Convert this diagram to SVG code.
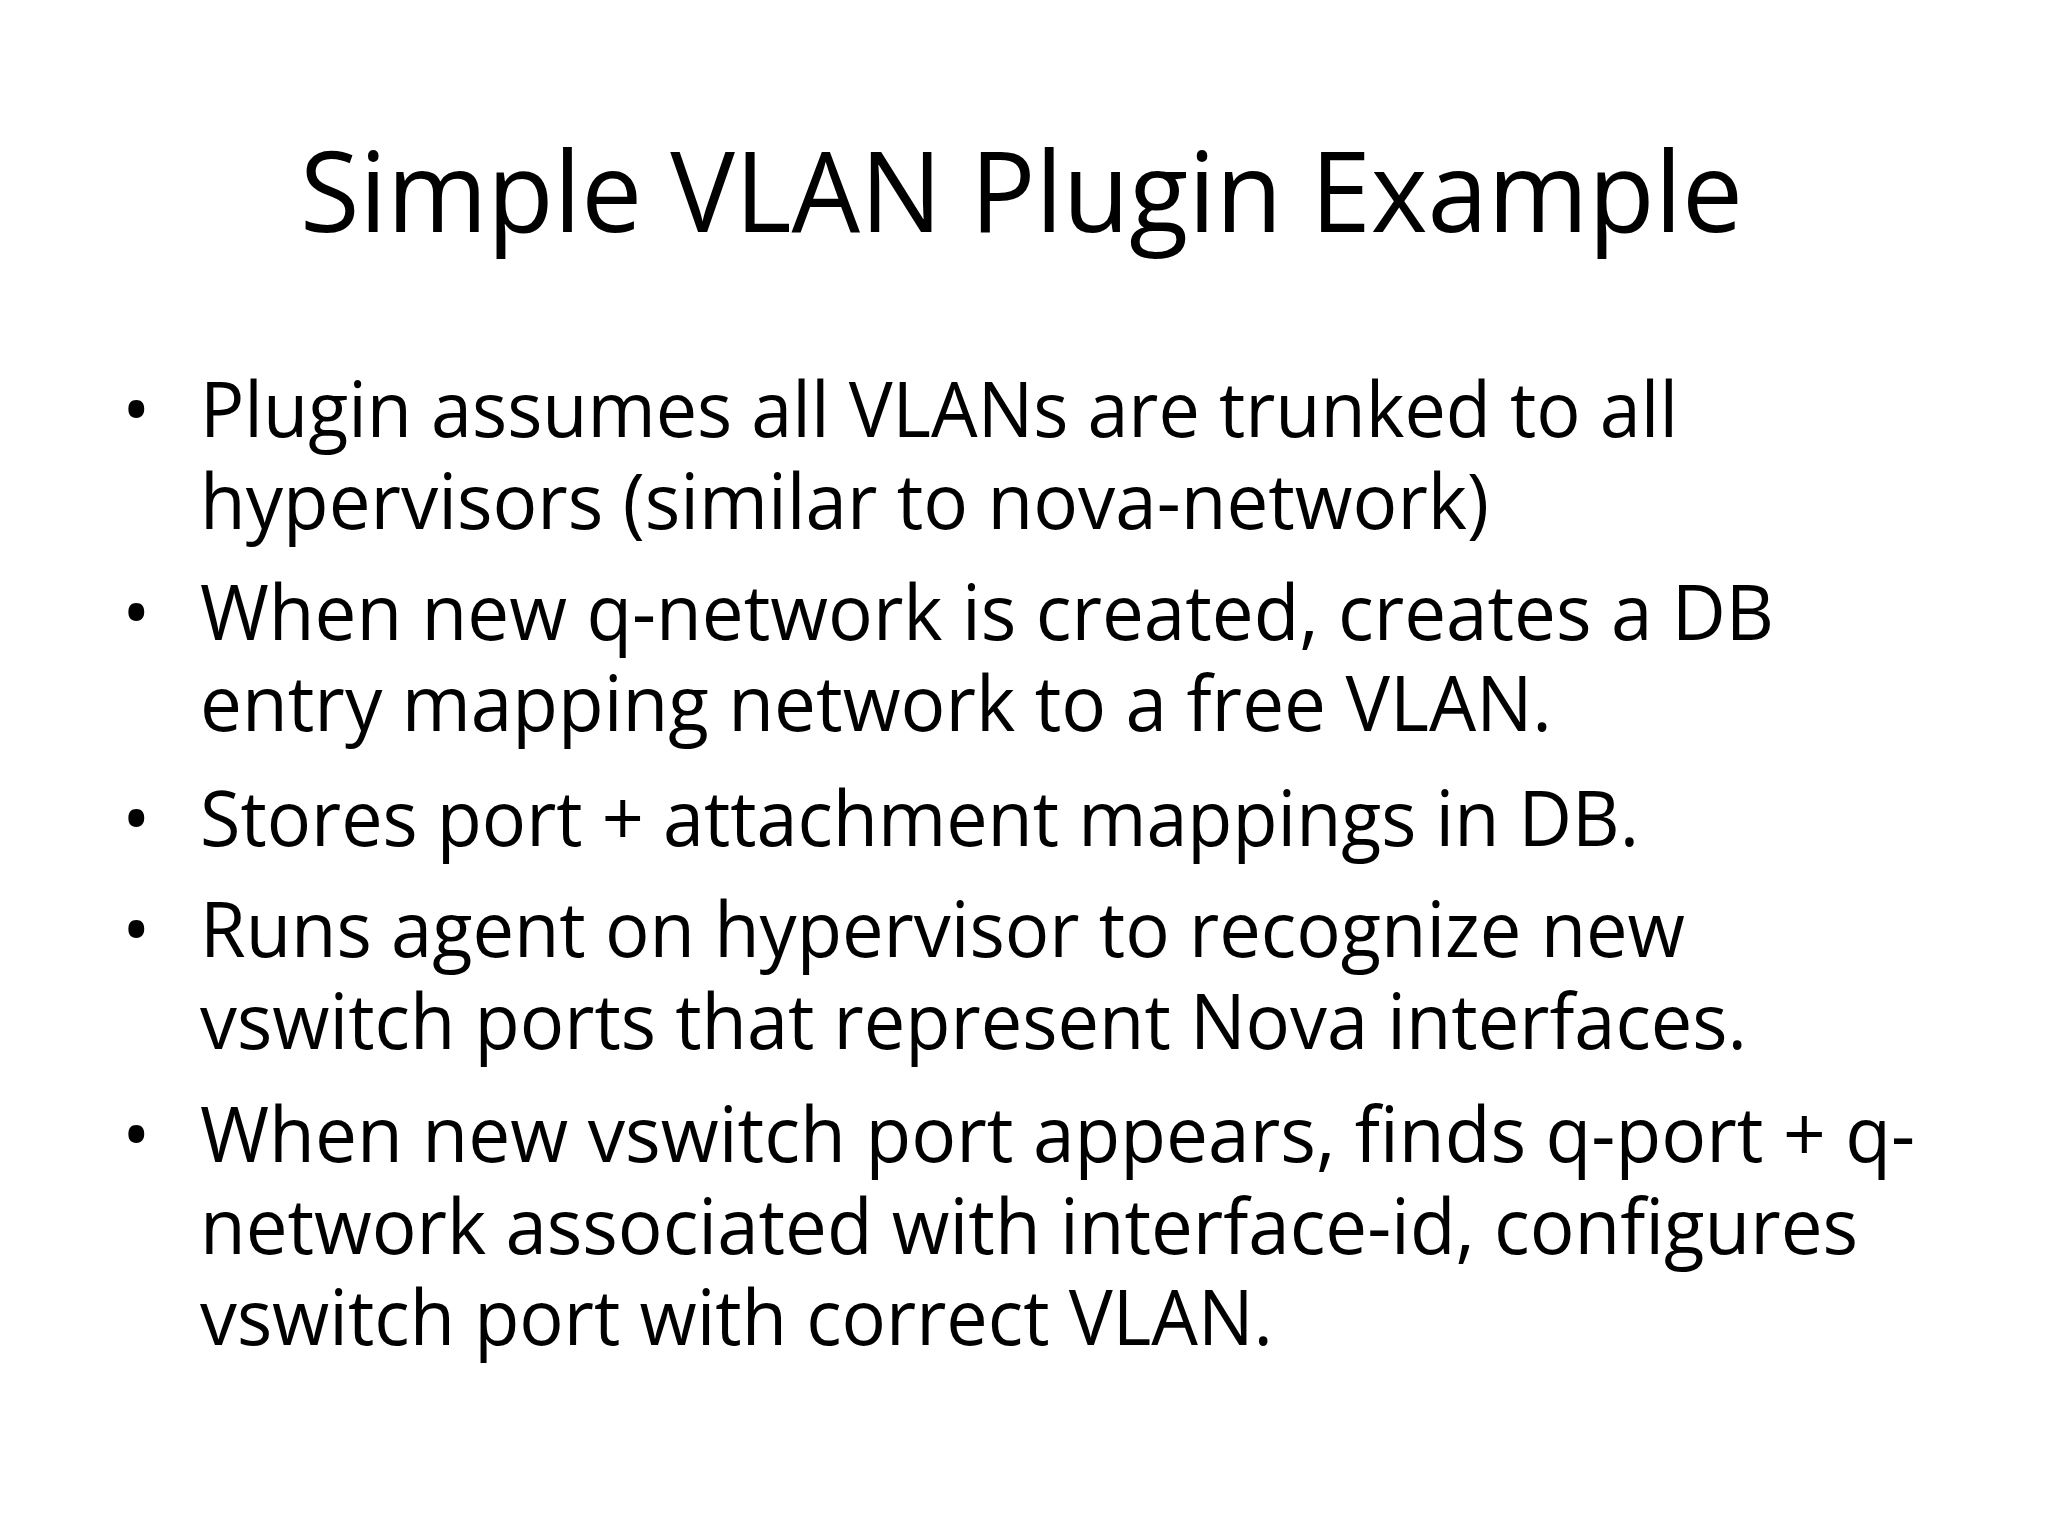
<svg xmlns="http://www.w3.org/2000/svg" width="2048" height="1536" viewBox="0 0 2048 1536">
<style>
text{font-family:"Open Sans","Noto Sans","Liberation Sans",sans-serif;fill:#000}
.t{font-size:112px}
.b{font-size:76px}
</style>
<rect width="2048" height="1536" fill="#fff"/>
<g id="title"><text class="t" x="300" y="232" textLength="1443" lengthAdjust="spacingAndGlyphs">Simple VLAN Plugin Example</text></g>
<g id="bullets">
<text class="b" x="122" y="437">•</text>
<text class="b" x="200" y="437" textLength="1478" lengthAdjust="spacingAndGlyphs">Plugin assumes all VLANs are trunked to all</text>
<text class="b" x="200" y="529" textLength="1289" lengthAdjust="spacingAndGlyphs">hypervisors (similar to nova-network)</text>
<text class="b" x="122" y="640">•</text>
<text class="b" x="200" y="640" textLength="1574" lengthAdjust="spacingAndGlyphs">When new q-network is created, creates a DB</text>
<text class="b" x="200" y="731" textLength="1352" lengthAdjust="spacingAndGlyphs">entry mapping network to a free VLAN.</text>
<text class="b" x="122" y="846">•</text>
<text class="b" x="200" y="846" textLength="1439" lengthAdjust="spacingAndGlyphs">Stores port + attachment mappings in DB.</text>
<text class="b" x="122" y="957">•</text>
<text class="b" x="200" y="957" textLength="1485" lengthAdjust="spacingAndGlyphs">Runs agent on hypervisor to recognize new</text>
<text class="b" x="200" y="1049" textLength="1547" lengthAdjust="spacingAndGlyphs">vswitch ports that represent Nova interfaces.</text>
<text class="b" x="122" y="1162">•</text>
<text class="b" x="200" y="1162" textLength="1715" lengthAdjust="spacingAndGlyphs">When new vswitch port appears, finds q-port + q-</text>
<text class="b" x="200" y="1254" textLength="1658" lengthAdjust="spacingAndGlyphs">network associated with interface-id, configures</text>
<text class="b" x="200" y="1345" textLength="1073" lengthAdjust="spacingAndGlyphs">vswitch port with correct VLAN.</text>
</g>
</svg>
